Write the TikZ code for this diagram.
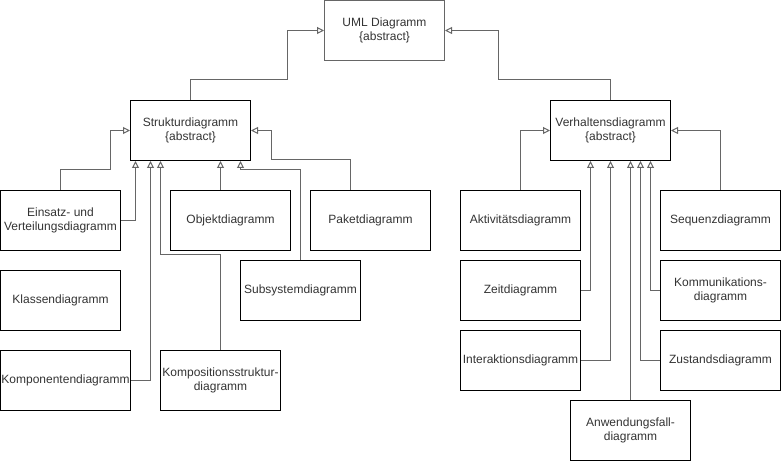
\documentclass[tikz,border=0pt]{standalone}
\usepackage{fontspec}
\setmainfont{Liberation Sans}
\usetikzlibrary{arrows.meta}
\definecolor{linegray}{HTML}{666666}
\definecolor{textgray}{HTML}{333333}
\tikzset{
  >={Triangle[open,length=7pt,width=7pt]},
}
\tikzstyle{box}=[draw=black,line width=1pt,minimum width=120pt,minimum height=60pt,inner sep=0pt,align=center,text=textgray]
\tikzstyle{conn}=[draw=linegray,line width=1pt,->]
\tikzstyle{every node}=[font=\fontsize{12}{14}\selectfont]

\begin{document}
\begin{tikzpicture}[x=1pt,y=-1pt]
        \useasboundingbox (-0.5,-0.5) rectangle (780.5,461.5);
        % abstract classes
        \node[box,draw=linegray] (uml) at (384,30) {UML Diagramm\\\{abstract\}};
        \node[box] (struktur) at (190,130) {Strukturdiagramm\\\{abstract\}};
        \node[box] (verhalten) at (610,130) {Verhaltensdiagramm\\\{abstract\}};
        % structure diagrams
        \node[box] (einsatz) at (60,220) {Einsatz- und\\Verteilungsdiagramm};
        \node[box] (objekt) at (230,220) {Objektdiagramm};
        \node[box] (paket) at (370,220) {Paketdiagramm};
        \node[box] (subsystem) at (300,290) {Subsystemdiagramm};
        \node[box] (klassen) at (60,300) {Klassendiagramm};
        \node[box,minimum width=130pt] (komponenten) at (65,380) {Komponentendiagramm};
        \node[box] (komposition) at (220,380) {Kompositionsstruktur-\\diagramm};
        % behaviour diagrams
        \node[box] (aktivitaet) at (520,220) {Aktivitätsdiagramm};
        \node[box] (sequenz) at (720,220) {Sequenzdiagramm};
        \node[box] (zeit) at (520,290) {Zeitdiagramm};
        \node[box] (kommunikation) at (720,290) {Kommunikations-\\diagramm};
        \node[box] (interaktion) at (520,360) {Interaktionsdiagramm};
        \node[box] (zustand) at (720,360) {Zustandsdiagramm};
        \node[box] (anwendungsfall) at (630,430) {Anwendungsfall-\\diagramm};
        % generalisations
        \draw[conn] (struktur.north) -- ++(0,-20) -| ([xshift=-37pt]uml.west) -- (uml.west);
        \draw[conn] (verhalten.north) -- ++(0,-20) -| ([xshift=53pt]uml.east) -- (uml.east);
        \draw[conn] (einsatz.north) -- ++(0,-20) -| ([xshift=-20pt]struktur.west) -- (struktur.west);
        \draw[conn] (einsatz.east) -| ([xshift=-55pt]struktur.south);
        \draw[conn] (komponenten.east) -| ([xshift=-40pt]struktur.south);
        \draw[conn] (komposition.north) -- ++(0,-95) -| ([xshift=-30pt]struktur.south);
        \draw[conn] ([xshift=-10pt]objekt.north) -- ([xshift=30pt]struktur.south);
        \draw[conn] (subsystem.north) -- ++(0,-90) -| ([xshift=50pt]struktur.south);
        \draw[conn] ([xshift=-20pt]paket.north) -- ++(0,-30) -| ([xshift=20pt]struktur.east) -- (struktur.east);
        \draw[conn] (aktivitaet.north) |- (verhalten.west);
        \draw[conn] (sequenz.north) |- (verhalten.east);
        \draw[conn] (zeit.east) -| ([xshift=-20pt]verhalten.south);
        \draw[conn] (interaktion.east) -| (verhalten.south);
        \draw[conn] (anwendungsfall.north) -- ([xshift=20pt]verhalten.south);
        \draw[conn] (zustand.west) -| ([xshift=30pt]verhalten.south);
        \draw[conn] (kommunikation.west) -| ([xshift=40pt]verhalten.south);
      \end{tikzpicture}
\end{document}
